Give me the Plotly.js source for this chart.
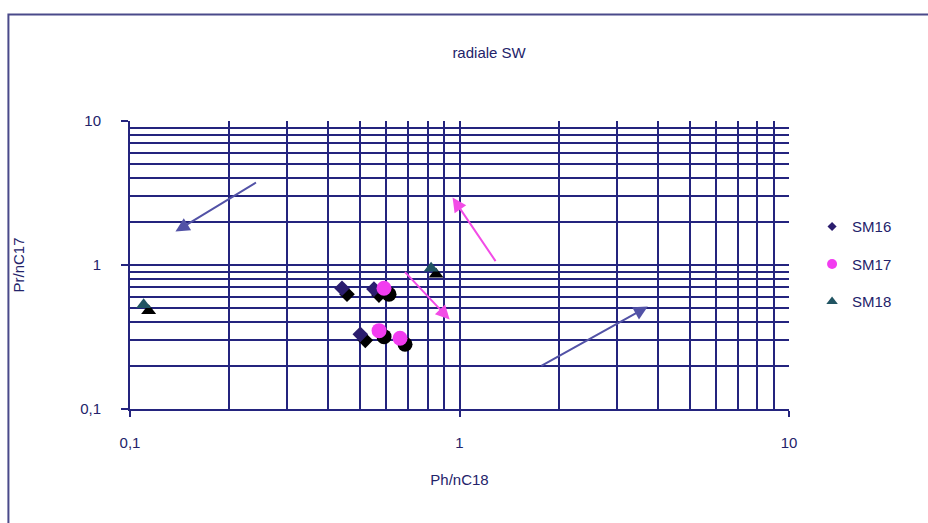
<!DOCTYPE html>
<html>
<head>
<meta charset="utf-8">
<script src="https://cdn.plot.ly/plotly-3.0.1.min.js"></script>
<style>
  html, body { margin: 0; padding: 0; background: #ffffff; }
  #chart { width: 928px; height: 523px; }
</style>
</head>
<body>
<div id="chart"></div>
<script>
// ---- data ----
const sm16X = [0.44, 0.55, 0.50];
const sm16Y = [0.69, 0.68, 0.33];
const sm17X = [0.59, 0.57, 0.66];
const sm17Y = [0.69, 0.35, 0.31];
const sm18X = [0.11, 0.82];
const sm18Y = [0.53, 0.95];

const seriesNames = ['SM16', 'SM17', 'SM18'];
const majorTickVals = [0.1, 1, 10];
const majorTickText = ['0,1', '1', '10'];
const minorTickVals = [0.2, 0.3, 0.4, 0.5, 0.6, 0.7, 0.8, 0.9, 2, 3, 4, 5, 6, 7, 8, 9];

// ---- layout geometry ----
const W = 928, H = 523;
const M = { l: 130, r: 139, t: 121, b: 114 };
const pxPerDecX = (W - M.l - M.r) / 2;
const pxPerDecY = (H - M.t - M.b) / 2;
// drop shadow offset (pixels) turned into a multiplicative factor on log axes
const shX = Math.pow(10, 5 / pxPerDecX);
const shY = Math.pow(10, -6 / pxPerDecY);
const shadow = (arr, f) => arr.map(v => v * f);

const FONT = 'Liberation Sans, Arial, sans-serif';
const navy = '#24247e';
const textCol = '#23236a';
const c16 = '#2b1d6e';
const c17 = '#f23cf0';
const c18 = '#215462';

function shadowTrace(xs, ys, symbol, size) {
  return { x: shadow(xs, shX), y: shadow(ys, shY), mode: 'markers', type: 'scatter',
    showlegend: false, hoverinfo: 'skip',
    marker: { symbol: symbol, size: size, color: '#000000', line: { width: 0 } } };
}
function mainTrace(xs, ys, name, symbol, size, color) {
  return { x: xs, y: ys, mode: 'markers', type: 'scatter', name: name, showlegend: false,
    marker: { symbol: symbol, size: size, color: color, line: { width: 0 } } };
}
function legendTrace(name, symbol, size, color) {
  return { x: [null], y: [null], mode: 'markers', type: 'scatter', name: name,
    legendgroup: name, showlegend: true,
    marker: { symbol: symbol, size: size, color: color, line: { width: 0 } } };
}

const traces = [
  shadowTrace(sm16X, sm16Y, 'diamond', 12),
  mainTrace(sm16X, sm16Y, seriesNames[0], 'diamond', 12, c16),
  shadowTrace(sm17X, sm17Y, 'circle', 15),
  mainTrace(sm17X, sm17Y, seriesNames[1], 'circle', 15, c17),
  shadowTrace(sm18X, sm18Y, 'triangle-up', 13),
  mainTrace(sm18X, sm18Y, seriesNames[2], 'triangle-up', 13, c18),
  legendTrace(seriesNames[0], 'diamond', 7, c16),
  legendTrace(seriesNames[1], 'circle', 10, c17),
  legendTrace(seriesNames[2], 'triangle-up', 10, c18)
];

const arrowNavy = '#5252a6';
const arrowPink = '#f24ce6';
function arrow(x, y, ax, ay, color) {
  return { x: x, y: y, xref: 'x', yref: 'y', ax: ax, ay: ay, text: '', showarrow: true,
    arrowhead: 2, arrowsize: 1.4, arrowwidth: 2, arrowcolor: color, standoff: 0, startstandoff: 0 };
}

const axisCommon = {
  type: 'log', range: [-1, 1],
  tickmode: 'array', tickvals: majorTickVals, ticktext: majorTickText,
  ticks: 'outside', tickcolor: navy, tickwidth: 2,
  showgrid: true, gridcolor: navy, gridwidth: 2,
  showline: true, linecolor: navy, linewidth: 2,
  zeroline: false,
  tickfont: { family: FONT, size: 15, color: textCol },
  minor: { tickmode: 'array', tickvals: minorTickVals, showgrid: true, gridcolor: navy, gridwidth: 2, ticks: '' }
};

const layout = {
  width: W, height: H,
  margin: M,
  paper_bgcolor: '#ffffff', plot_bgcolor: '#ffffff',
  font: { family: FONT, size: 14, color: textCol },
  title: { text: 'radiale SW', xref: 'container', yref: 'container', x: 0.527, y: 0.9,
    xanchor: 'center', yanchor: 'middle',
    font: { family: FONT, size: 15, color: textCol } },
  xaxis: Object.assign({}, axisCommon, {
    ticklen: 6, ticklabelstandoff: 13,
    title: { text: 'Ph/nC18', standoff: 24, font: { family: FONT, size: 15, color: textCol } }
  }),
  yaxis: Object.assign({}, axisCommon, {
    ticklen: 7, ticklabelstandoff: 17,
    title: { text: 'Pr/nC17', standoff: 52, font: { family: FONT, size: 15, color: textCol } }
  }),
  legend: { x: 1.035, xanchor: 'left', y: 0.69, yanchor: 'top',
    bgcolor: 'rgba(0,0,0,0)', tracegroupgap: 15,
    font: { family: FONT, size: 15, color: textCol } },
  shapes: [
    { type: 'rect', xref: 'paper', yref: 'paper', x0: -0.1845, x1: 1.4, y0: -0.6, y1: 1.370,
      line: { color: '#4a4a8a', width: 2 }, fillcolor: 'rgba(0,0,0,0)', layer: 'above' }
  ],
  annotations: [
    arrow(-0.862, 0.232, 82, -50, arrowNavy),
    arrow(-0.021, 0.468, 44, 65, arrowPink),
    arrow(-0.030, -0.379, -46, -49, arrowPink),
    arrow(0.5715, -0.289, -108, 60, arrowNavy)
  ],
  showlegend: true
};

Plotly.newPlot('chart', traces, layout, { displayModeBar: false, staticPlot: true });
</script>
</body>
</html>
